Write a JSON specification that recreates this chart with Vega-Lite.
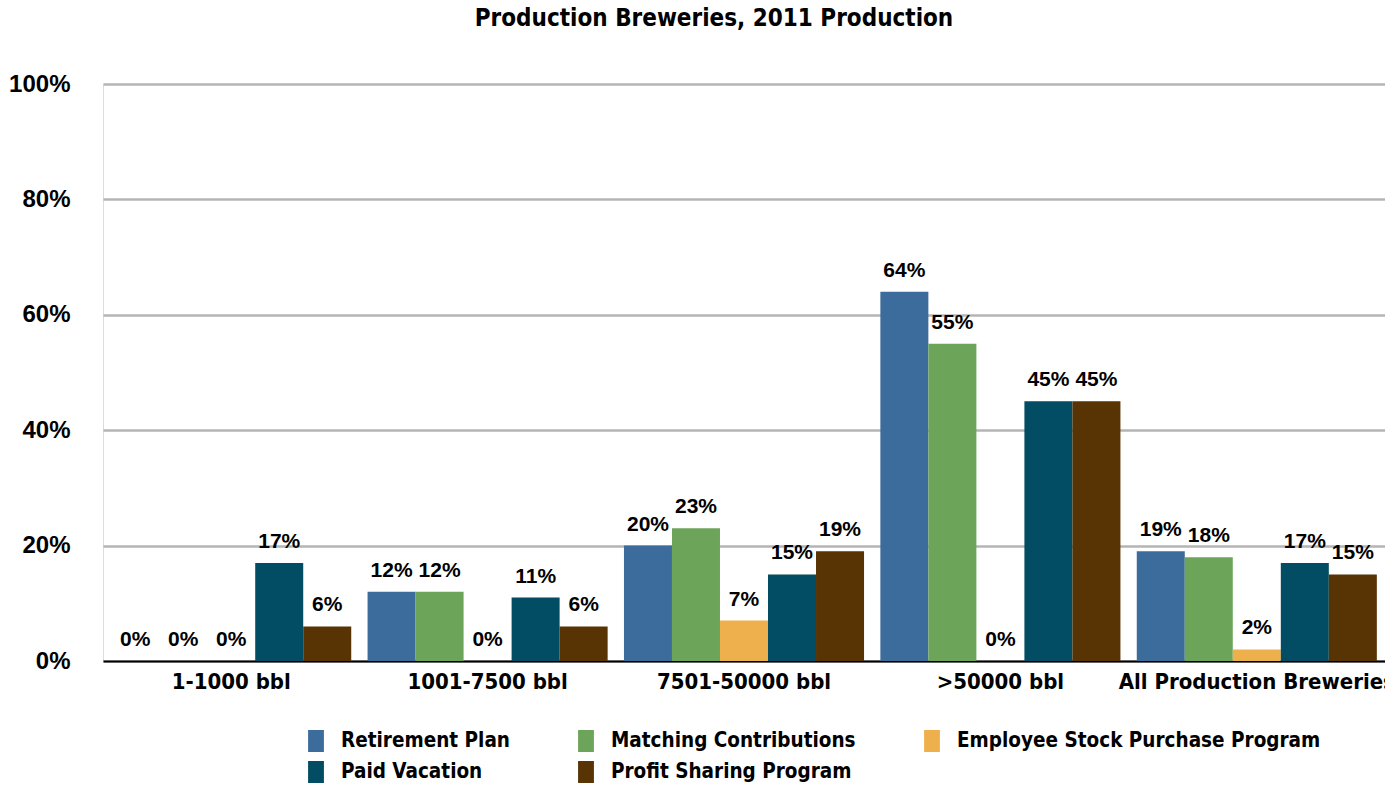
{
  "$schema": "https://vega.github.io/schema/vega-lite/v6.json",
  "width": 1282,
  "height": 577,
  "autosize": {"type": "none"},
  "padding": {"left": 103, "top": 84, "right": 0, "bottom": 125},
  "background": "white",
  "title": {
    "text": "Production Breweries, 2011 Production",
    "font": "'Liberation Sans Narrow', 'DejaVu Sans Condensed', sans-serif",
    "fontWeight": "bold",
    "fontSize": 24,
    "color": "#000000",
    "anchor": "middle",
    "dx": -30,
    "offset": 41
  },
  "data": {
    "values": [
      {"size": "1-1000 bbl", "benefit": "Retirement Plan", "pct": 0},
      {"size": "1-1000 bbl", "benefit": "Matching Contributions", "pct": 0},
      {"size": "1-1000 bbl", "benefit": "Employee Stock Purchase Program", "pct": 0},
      {"size": "1-1000 bbl", "benefit": "Paid Vacation", "pct": 0.17},
      {"size": "1-1000 bbl", "benefit": "Profit Sharing Program", "pct": 0.06},
      {"size": "1001-7500 bbl", "benefit": "Retirement Plan", "pct": 0.12},
      {"size": "1001-7500 bbl", "benefit": "Matching Contributions", "pct": 0.12},
      {"size": "1001-7500 bbl", "benefit": "Employee Stock Purchase Program", "pct": 0},
      {"size": "1001-7500 bbl", "benefit": "Paid Vacation", "pct": 0.11},
      {"size": "1001-7500 bbl", "benefit": "Profit Sharing Program", "pct": 0.06},
      {"size": "7501-50000 bbl", "benefit": "Retirement Plan", "pct": 0.20},
      {"size": "7501-50000 bbl", "benefit": "Matching Contributions", "pct": 0.23},
      {"size": "7501-50000 bbl", "benefit": "Employee Stock Purchase Program", "pct": 0.07},
      {"size": "7501-50000 bbl", "benefit": "Paid Vacation", "pct": 0.15},
      {"size": "7501-50000 bbl", "benefit": "Profit Sharing Program", "pct": 0.19},
      {"size": ">50000 bbl", "benefit": "Retirement Plan", "pct": 0.64},
      {"size": ">50000 bbl", "benefit": "Matching Contributions", "pct": 0.55},
      {"size": ">50000 bbl", "benefit": "Employee Stock Purchase Program", "pct": 0},
      {"size": ">50000 bbl", "benefit": "Paid Vacation", "pct": 0.45},
      {"size": ">50000 bbl", "benefit": "Profit Sharing Program", "pct": 0.45},
      {"size": "All Production Breweries", "benefit": "Retirement Plan", "pct": 0.19},
      {"size": "All Production Breweries", "benefit": "Matching Contributions", "pct": 0.18},
      {"size": "All Production Breweries", "benefit": "Employee Stock Purchase Program", "pct": 0.02},
      {"size": "All Production Breweries", "benefit": "Paid Vacation", "pct": 0.17},
      {"size": "All Production Breweries", "benefit": "Profit Sharing Program", "pct": 0.15}
    ]
  },
  "encoding": {
    "x": {
      "field": "size",
      "type": "nominal",
      "sort": ["1-1000 bbl", "1001-7500 bbl", "7501-50000 bbl", ">50000 bbl", "All Production Breweries"],
      "scale": {"paddingInner": 0, "paddingOuter": 0},
      "axis": {
        "title": null,
        "labelAngle": 0,
        "labelFont": "'Liberation Sans Narrow', 'DejaVu Sans Condensed', sans-serif",
        "labelFontWeight": "bold",
        "labelFontSize": 22,
        "labelColor": "#000000",
        "labelPadding": 10,
        "labelOverlap": false,
        "labelLimit": 400,
        "ticks": false,
        "domainColor": "#000000",
        "domainWidth": 2,
        "grid": false
      }
    },
    "xOffset": {
      "field": "benefit",
      "type": "nominal",
      "sort": ["Retirement Plan", "Matching Contributions", "Employee Stock Purchase Program", "Paid Vacation", "Profit Sharing Program"],
      "scale": {"paddingInner": 0, "paddingOuter": 0.17}
    },
    "y": {
      "field": "pct",
      "type": "quantitative",
      "scale": {"domain": [0, 1]},
      "axis": {
        "title": null,
        "values": [0, 0.2, 0.4, 0.6, 0.8, 1],
        "format": ".0%",
        "labelFont": "Liberation Sans",
        "labelFontWeight": "bold",
        "labelFontSize": 24,
        "labelColor": "#000000",
        "labelPadding": 33,
        "ticks": false,
        "domain": false,
        "gridColor": "#b4b4b4",
        "gridWidth": 2.5
      }
    }
  },
  "layer": [
    {
      "mark": {"type": "bar"},
      "encoding": {
        "color": {
          "field": "benefit",
          "type": "nominal",
          "sort": ["Retirement Plan", "Matching Contributions", "Employee Stock Purchase Program", "Paid Vacation", "Profit Sharing Program"],
          "scale": {
            "domain": ["Retirement Plan", "Matching Contributions", "Employee Stock Purchase Program", "Paid Vacation", "Profit Sharing Program"],
            "range": ["#3c6c9b", "#6ca55a", "#eeb04c", "#024d63", "#583304"]
          },
          "legend": {
            "title": null,
            "orient": "none",
            "legendX": 202,
            "legendY": 646,
            "direction": "horizontal",
            "columns": 3,
            "symbolType": "M-0.72,-1H0.72V1H-0.72Z",
            "symbolSize": 484,
            "symbolStrokeWidth": 0,
            "labelFont": "'Liberation Sans Narrow', 'DejaVu Sans Condensed', sans-serif",
            "labelFontWeight": "bold",
            "labelFontSize": 20.5,
            "labelColor": "#000000",
            "labelOffset": 14,
            "columnPadding": 65,
            "rowPadding": 9,
            "labelLimit": 500
          }
        }
      }
    },
    {
      "mark": {"type": "text", "baseline": "bottom", "dy": -11, "font": "Liberation Sans", "fontWeight": "bold", "fontSize": 21, "color": "#000000"},
      "encoding": {
        "text": {"field": "pct", "type": "quantitative", "format": ".0%"}
      }
    }
  ]
}
